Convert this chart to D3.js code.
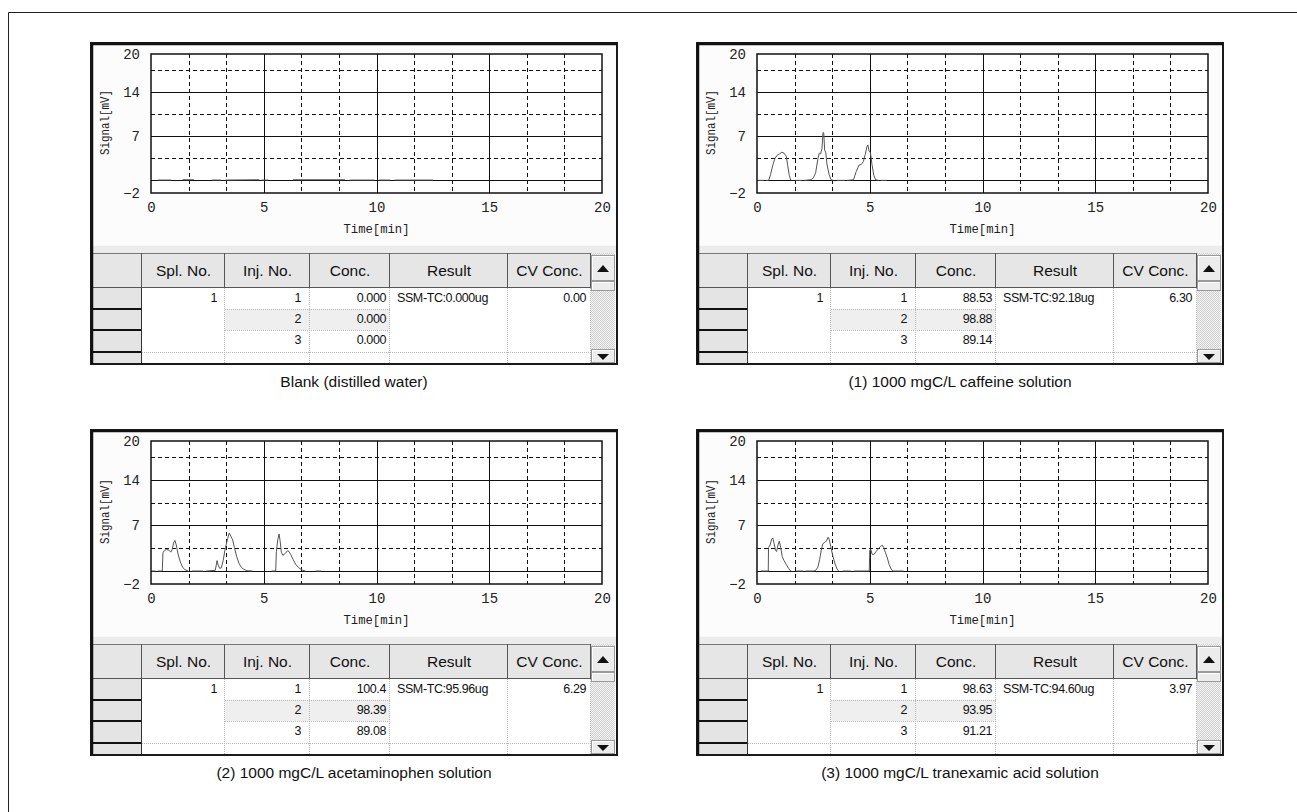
<!DOCTYPE html>
<html><head><meta charset="utf-8">
<script src="https://cdn.jsdelivr.net/npm/d3@7"></script>
<style>body{margin:0;background:#fff}svg{display:block}</style>
</head><body><svg id="c" width="1297" height="812"></svg>
<script>
// ---------- data ----------
const timeTicks = [0, 5, 10, 15, 20];
const signalTicks = [-2, 7, 14, 20];
const signalSolidGrid = [0, 7, 14];
const signalDashGrid = [3.5, 10.5, 17.5];
const timeSolidGrid = [5, 10, 15];
const timeDashGrid = [1.667, 3.333, 6.667, 8.333, 11.667, 13.333, 16.667, 18.333];

const tableHeaders = ["Spl. No.", "Inj. No.", "Conc.", "Result", "CV Conc."];
const splNo = ["1", "", ""];
const injNo = ["1", "2", "3"];

const captions = ["Blank (distilled water)", "(1) 1000 mgC/L caffeine solution",
  "(2) 1000 mgC/L acetaminophen solution", "(3) 1000 mgC/L tranexamic acid solution"];
const blankConc = ["0.000", "0.000", "0.000"];
const caffeineConc = ["88.53", "98.88", "89.14"];
const acetaminophenConc = ["100.4", "98.39", "89.08"];
const tranexamicConc = ["98.63", "93.95", "91.21"];
const results = ["SSM-TC:0.000ug", "SSM-TC:92.18ug", "SSM-TC:95.96ug", "SSM-TC:94.60ug"];
const cvConc = ["0.00", "6.30", "6.29", "3.97"];

const blankTime   = [0.3, 0.9, null, 1.4, 1.9, null, 2.7, 3.1, null, 3.3, 4.8, null, 4.9, 5.2, null, 6.3, 8.6, null, 8.8, 9.9, null, 10.1, 10.6, null, 10.8, 12.5];
const blankSignal = [0.05, 0.05, null, 0.1, 0.1, null, 0.05, 0.05, null, 0.05, 0.1, null, 0.05, 0.05, null, 0.1, 0.1, null, 0.05, 0.05, null, 0.05, 0.05, null, 0.05, 0.05];

const caffeineTime   = [0.05, 0.3, null, 0.4, 0.52, 0.6, 0.7, 0.8, 0.9, 1.0, 1.1, 1.2, 1.3, 1.36, 1.43, 1.5, null, 1.7, 2.0, null, 2.1, 2.4, 2.5, 2.6, 2.7, 2.76, 2.82, 2.88, 2.93, 2.96, 3.0, 3.05, 3.1, 3.2, 3.28, 3.4, null, 3.55, 3.9, null, 4.0, 4.28, 4.4, 4.52, 4.62, 4.72, 4.8, 4.88, 4.92, 4.97, 5.03, 5.1, 5.18, 5.26, 5.4, null, 5.5, 5.75];
const caffeineSignal = [0, 0, null, 0, 0, 0.9, 2.4, 3.5, 4.0, 4.2, 4.45, 4.3, 3.8, 2.4, 0.8, 0.05, null, 0, 0, null, 0, 0.1, 0.4, 1.2, 3.4, 4.3, 4.2, 5.0, 7.6, 7.5, 4.8, 4.4, 2.6, 0.9, 0.1, 0, null, 0, 0, null, 0, 0.1, 1.4, 2.4, 2.5, 3.0, 4.1, 5.4, 5.6, 4.6, 4.4, 2.5, 0.8, 0.1, 0, null, 0, 0];

const acetaminophenTime   = [0.03, 0.2, null, 0.3, 0.5, 0.53, 0.6, 0.7, 0.8, 0.88, 0.95, 1.0, 1.06, 1.12, 1.2, 1.3, 1.4, 1.5, 1.65, null, 1.8, 2.3, null, 2.45, 2.85, 2.93, 2.98, 3.05, 3.12, 3.2, 3.3, 3.4, 3.47, 3.55, 3.62, 3.7, 3.8, 3.9, 4.0, 4.1, 4.25, 4.5, null, 5.35, 5.53, 5.56, 5.62, 5.68, 5.73, 5.78, 5.85, 5.95, 6.05, 6.12, 6.2, 6.3, 6.42, 6.55, 6.7, 6.85, null, 7.3, 7.55];
const acetaminophenSignal = [0, 0, null, 0, 0, 2.8, 3.2, 3.3, 3.2, 2.9, 3.4, 4.3, 4.7, 4.0, 2.6, 1.4, 0.6, 0.2, 0, null, 0, 0, null, 0, 0.1, 1.6, 0.9, 0.4, 0.5, 1.6, 3.6, 5.0, 5.85, 5.3, 4.8, 3.6, 2.2, 1.2, 0.6, 0.3, 0.05, 0, null, 0, 0, 3.0, 4.8, 5.7, 4.5, 2.9, 2.4, 2.7, 3.1, 3.0, 2.5, 1.8, 1.0, 0.5, 0.15, 0, null, 0, 0];

const tranexamicTime   = [0.17, 0.5, 0.51, 0.58, 0.65, 0.7, 0.76, 0.82, 0.87, 0.93, 0.99, 1.05, 1.12, 1.2, 1.3, 1.4, 1.5, null, 1.75, 2.05, null, 2.15, 2.5, 2.6, 2.7, 2.78, 2.85, 2.92, 3.0, 3.08, 3.15, 3.2, 3.27, 3.35, 3.45, 3.55, 3.62, null, 3.8, 4.15, null, 4.3, 4.98, 5.0, 5.05, 5.1, 5.18, 5.28, 5.38, 5.48, 5.56, 5.62, 5.7, 5.78, 5.86, 5.95, 6.02, 6.5];
const tranexamicSignal = [0, 0, 3.6, 4.0, 4.9, 5.1, 4.2, 3.2, 3.0, 4.0, 4.6, 3.6, 2.2, 1.6, 1.0, 0.4, 0, null, 0, 0, null, 0, 0, 0.1, 0.6, 1.8, 3.2, 4.2, 4.4, 4.6, 5.2, 4.9, 3.8, 2.5, 1.2, 0.3, 0, null, 0, 0, null, 0, 0, 3.2, 3.3, 2.6, 2.5, 3.0, 3.4, 3.8, 3.95, 3.6, 2.8, 2.0, 1.0, 0.3, 0, 0];

const panels = [
  {px: 91,  py: 43,  extra: 0, time: blankTime, signal: blankSignal, conc: blankConc, k: 0},
  {px: 697, py: 43,  extra: 0, time: caffeineTime, signal: caffeineSignal, conc: caffeineConc, k: 1},
  {px: 91,  py: 430, extra: 4, time: acetaminophenTime, signal: acetaminophenSignal, conc: acetaminophenConc, k: 2},
  {px: 697, py: 430, extra: 4, time: tranexamicTime, signal: tranexamicSignal, conc: tranexamicConc, k: 3}
];

// ---------- drawing ----------
const svg = d3.select("#c");
const defs = svg.append("defs");
const pat = defs.append("pattern").attr("id", "dither").attr("width", 2).attr("height", 2).attr("patternUnits", "userSpaceOnUse");
pat.append("rect").attr("width", 2).attr("height", 2).attr("fill", "#f4f4f4");
pat.append("rect").attr("width", 1).attr("height", 1).attr("fill", "#cfcfcf");
pat.append("rect").attr("x", 1).attr("y", 1).attr("width", 1).attr("height", 1).attr("fill", "#cfcfcf");

// outer frame (top & left visible)
svg.append("path").attr("d", "M8.5,812 V12.5 H1297").attr("fill", "none").attr("stroke", "#222").attr("stroke-width", 1);

const monoFont = "'Liberation Mono', 'DejaVu Sans Mono', monospace";
const sansFont = "'Liberation Sans', Arial, sans-serif";

panels.forEach(p => {
  const W = 526, H = 321 + p.extra;
  const g = svg.append("g").attr("transform", `translate(${p.px},${p.py})`);
  const plotL = 60, plotR = 511, plotT = 11, plotB = 150 + p.extra;
  const x = d3.scaleLinear().domain([0, 20]).range([plotL, plotR]);
  const y = d3.scaleLinear().domain([-2, 20]).range([plotB, plotT]);

  // panel background
  g.append("rect").attr("x", 0).attr("y", 0).attr("width", W).attr("height", H).attr("fill", "#fcfcfc");
  // chart/table separator band
  const tTop = 210 + p.extra;
  g.append("rect").attr("x", 1).attr("y", tTop - 8).attr("width", W - 2).attr("height", 8).attr("fill", "#ececec");
  g.append("line").attr("x1", 1).attr("x2", W - 1).attr("y1", tTop - 7.5).attr("y2", tTop - 7.5).attr("stroke", "#f8f8f8");

  // plot area
  g.append("rect").attr("x", plotL).attr("y", plotT).attr("width", plotR - plotL).attr("height", plotB - plotT).attr("fill", "#fff");
  const grid = g.append("g");
  grid.selectAll(".hs").data(signalSolidGrid).join("line")
    .attr("x1", plotL).attr("x2", plotR).attr("y1", d => Math.round(y(d)) + 0.5).attr("y2", d => Math.round(y(d)) + 0.5)
    .attr("stroke", "#111").attr("stroke-width", 1);
  grid.selectAll(".hd").data(signalDashGrid).join("line")
    .attr("x1", plotL).attr("x2", plotR).attr("y1", d => Math.round(y(d)) + 0.5).attr("y2", d => Math.round(y(d)) + 0.5)
    .attr("stroke", "#111").attr("stroke-width", 1).attr("stroke-dasharray", "4,3");
  grid.selectAll(".vs").data(timeSolidGrid).join("line")
    .attr("y1", plotT).attr("y2", plotB).attr("x1", d => Math.round(x(d)) + 0.5).attr("x2", d => Math.round(x(d)) + 0.5)
    .attr("stroke", "#111").attr("stroke-width", 1);
  grid.selectAll(".vd").data(timeDashGrid).join("line")
    .attr("y1", plotT).attr("y2", plotB).attr("x1", d => Math.round(x(d)) + 0.5).attr("x2", d => Math.round(x(d)) + 0.5)
    .attr("stroke", "#111").attr("stroke-width", 1).attr("stroke-dasharray", "4,3");

  // trace
  const pts = p.time.map((t, i) => ({t, v: p.signal[i]}));
  const line = d3.line().defined(d => d.t !== null && d.v !== null).x(d => x(d.t)).y(d => y(d.v));
  g.append("path").attr("d", line(pts)).attr("fill", "none").attr("stroke", "#555").attr("stroke-width", 1);

  g.append("rect").attr("x", plotL).attr("y", plotT).attr("width", plotR - plotL).attr("height", plotB - plotT)
    .attr("fill", "none").attr("stroke", "#111").attr("stroke-width", 1.5);

  // axes (labels only)
  const xa = g.append("g").attr("transform", `translate(0,${plotB + 9})`)
    .call(d3.axisBottom(x).tickValues(timeTicks).tickSize(0).tickPadding(0).tickFormat(d3.format("d")));
  xa.select(".domain").remove();
  xa.selectAll("text").attr("font-family", monoFont).attr("font-size", 14).attr("fill", "#222").attr("dy", "0.71em");
  const ya = g.append("g").attr("transform", `translate(${plotL - 11},0)`)
    .call(d3.axisLeft(y).tickValues(signalTicks).tickSize(0).tickPadding(0).tickFormat(d3.format("d")));
  ya.select(".domain").remove();
  ya.selectAll("text").attr("font-family", monoFont).attr("font-size", 14).attr("fill", "#222");
  g.append("text").attr("x", (plotL + plotR) / 2).attr("y", plotB + 40).attr("text-anchor", "middle")
    .attr("font-family", monoFont).attr("font-size", 12).attr("fill", "#222")
    .attr("textLength", 66).attr("lengthAdjust", "spacingAndGlyphs").text("Time[min]");
  g.append("text").attr("transform", `translate(18,${(plotT + plotB) / 2 - 1}) rotate(-90)`).attr("text-anchor", "middle")
    .attr("font-family", monoFont).attr("font-size", 12).attr("fill", "#222")
    .attr("textLength", 65).attr("lengthAdjust", "spacingAndGlyphs").text("Signal[mV]");

  // table
  const cols = [2, 51, 134, 219, 299, 417, 500];
  const scrollR = W - 2;
  const hB = tTop + 35;
  const rowB = [hB, hB + 21, hB + 42, hB + 64];
  const tBot = H - 1;
  // data area background
  g.append("rect").attr("x", cols[1]).attr("y", hB).attr("width", cols[6] - cols[1]).attr("height", tBot - hB).attr("fill", "#fff");
  // row 2 shading for Inj / Conc
  g.append("rect").attr("x", cols[2]).attr("y", rowB[1]).attr("width", cols[4] - cols[2]).attr("height", rowB[2] - rowB[1]).attr("fill", "#efefef");
  // header cells
  for (let i = 0; i < 6; i++) {
    g.append("rect").attr("x", cols[i]).attr("y", tTop).attr("width", cols[i + 1] - cols[i]).attr("height", hB - tTop)
      .attr("fill", "#e6e6e6");
    if (i > 0) {
      g.append("text").attr("x", (cols[i] + cols[i + 1]) / 2).attr("y", tTop + 23).attr("text-anchor", "middle")
        .attr("font-family", sansFont).attr("font-size", 15.5).attr("fill", "#111").text(tableHeaders[i - 1]);
    }
  }
  g.append("line").attr("x1", cols[0]).attr("x2", cols[6]).attr("y1", tTop + 0.5).attr("y2", tTop + 0.5).attr("stroke", "#777");
  g.append("line").attr("x1", cols[0]).attr("x2", cols[6]).attr("y1", hB - 0.5).attr("y2", hB - 0.5).attr("stroke", "#555");
  cols.slice(1).forEach(c => {
    g.append("line").attr("x1", c - 0.5).attr("x2", c - 0.5).attr("y1", tTop).attr("y2", hB).attr("stroke", "#555");
  });
  // row headers
  g.append("rect").attr("x", cols[0]).attr("y", hB).attr("width", cols[1] - cols[0]).attr("height", tBot - hB).attr("fill", "#e4e4e4");
  rowB.slice(1).forEach(r => {
    g.append("line").attr("x1", cols[0]).attr("x2", cols[1]).attr("y1", r).attr("y2", r).attr("stroke", "#111").attr("stroke-width", 2);
  });
  g.append("line").attr("x1", cols[1] - 0.5).attr("x2", cols[1] - 0.5).attr("y1", hB).attr("y2", tBot).attr("stroke", "#333");
  // dotted grid in data area
  const dot = "#b8b8b8";
  [2, 3, 4, 5].forEach(ci => {
    g.append("line").attr("x1", cols[ci] - 0.5).attr("x2", cols[ci] - 0.5).attr("y1", hB).attr("y2", tBot)
      .attr("stroke", dot).attr("stroke-dasharray", "1,1");
  });
  g.append("line").attr("x1", cols[6] - 0.5).attr("x2", cols[6] - 0.5).attr("y1", hB).attr("y2", tBot).attr("stroke", dot).attr("stroke-dasharray", "1,1");
  [rowB[1], rowB[2]].forEach(r => {
    g.append("line").attr("x1", cols[2]).attr("x2", cols[4]).attr("y1", r + 0.5).attr("y2", r + 0.5).attr("stroke", dot).attr("stroke-dasharray", "1,1");
  });
  g.append("line").attr("x1", cols[1]).attr("x2", cols[6]).attr("y1", rowB[3] + 0.5).attr("y2", rowB[3] + 0.5).attr("stroke", dot).attr("stroke-dasharray", "1,1");

  // cell texts
  const cellFont = sansFont;
  const tf = (sel) => sel.attr("font-family", cellFont).attr("font-size", 12.5).attr("fill", "#111").attr("letter-spacing", "-0.4");
  for (let r = 0; r < 3; r++) {
    const ty = rowB[r] + 14;
    tf(g.append("text").attr("x", cols[2] - 8).attr("y", ty).attr("text-anchor", "end").text(splNo[r]));
    tf(g.append("text").attr("x", cols[3] - 9).attr("y", ty).attr("text-anchor", "end").text(injNo[r]));
    tf(g.append("text").attr("x", cols[4] - 4).attr("y", ty).attr("text-anchor", "end").text(p.conc[r]));
  }
  tf(g.append("text").attr("x", cols[4] + 7).attr("y", rowB[0] + 14).text(results[p.k]));
  tf(g.append("text").attr("x", cols[6] - 5).attr("y", rowB[0] + 14).attr("text-anchor", "end").text(cvConc[p.k]));

  // scrollbar
  const sx = cols[6], sw = scrollR - cols[6];
  g.append("rect").attr("x", sx).attr("y", tTop).attr("width", sw).attr("height", tBot - tTop).attr("fill", "url(#dither)");
  const btn = (yy, hh) => {
    g.append("rect").attr("x", sx + 0.5).attr("y", yy + 0.5).attr("width", sw - 1).attr("height", hh - 1).attr("fill", "#ececec").attr("stroke", "#9a9a9a");
    g.append("path").attr("d", `M${sx + 1.5},${yy + hh - 1.5} V${yy + 1.5} H${sx + sw - 1.5}`).attr("fill", "none").attr("stroke", "#fff");
  };
  btn(tTop + 2, 26);
  g.append("path").attr("d", `M${sx + sw / 2 - 6},${tTop + 19} L${sx + sw / 2},${tTop + 12} L${sx + sw / 2 + 6},${tTop + 19} Z`).attr("fill", "#111");
  btn(tTop + 28, 10);
  btn(tBot - 14, 14);
  g.append("path").attr("d", `M${sx + sw / 2 - 6},${tBot - 9} L${sx + sw / 2},${tBot - 3} L${sx + sw / 2 + 6},${tBot - 9} Z`).attr("fill", "#111");

  // panel frame
  g.append("rect").attr("x", 0).attr("y", 0).attr("width", W).attr("height", H).attr("fill", "none").attr("stroke", "#1a1a1a").attr("stroke-width", 2);
  g.append("path").attr("d", `M1,${H} V1 H${W}`).attr("fill", "none").attr("stroke", "#111").attr("stroke-width", 2.5);

  // caption
  svg.append("text").attr("x", p.px + W / 2).attr("y", p.py + H + 23).attr("text-anchor", "middle")
    .attr("font-family", sansFont).attr("font-size", 15.5).attr("fill", "#111").text(captions[p.k]);
});
</script></body></html>
